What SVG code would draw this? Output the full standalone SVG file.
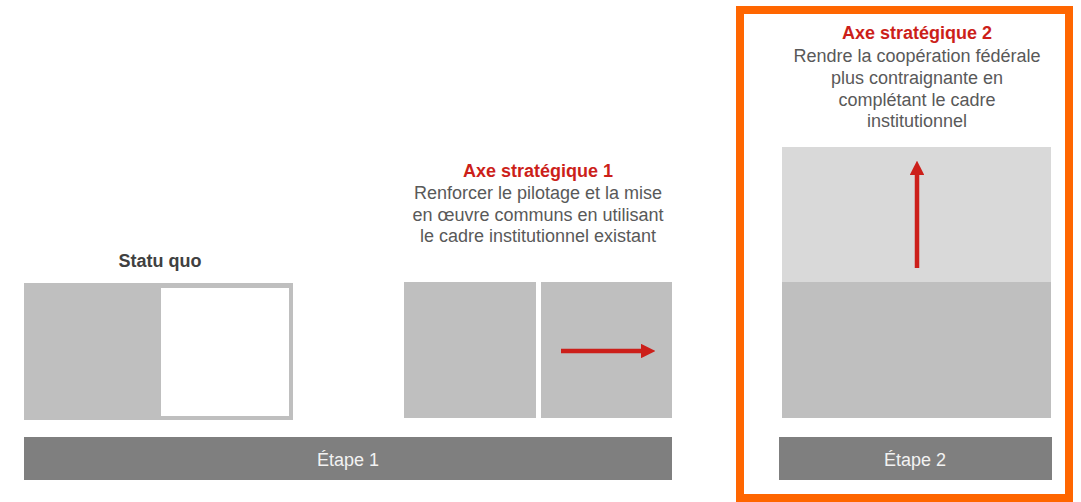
<svg xmlns="http://www.w3.org/2000/svg" width="1081" height="502" viewBox="0 0 1081 502">
  <style>
    .t { font-family: "Liberation Sans", Arial, sans-serif; font-size: 18px; text-anchor: middle; }
    .body { fill: #595959; }
    .head { fill: #cc1f1a; font-weight: bold; }
    .title { fill: #404040; font-weight: bold; }
    .bar { fill: #7f7f7f; }
    .barlabel { fill: #f2f2f2; }
    .box { fill: #bfbfbf; }
    .boxlight { fill: #d9d9d9; }
    .arrow { stroke: #cc1f1a; stroke-width: 4.5; fill: none; }
  </style>
  <defs>
    <marker id="head" viewBox="0 0 10 10" refX="0" refY="5" markerWidth="3.2" markerHeight="3.2" markerUnits="strokeWidth" orient="auto">
      <path d="M0,0 L10,5 L0,10 Z" fill="#cc1f1a"/>
    </marker>
  </defs>
  <rect width="1081" height="502" fill="#ffffff"/>

  <!-- Stage 2 highlight frame -->
  <rect id="stage2-frame" x="740" y="10" width="329" height="488" fill="none" stroke="#ff6600" stroke-width="8"/>

  <!-- Status quo -->
  <g id="statu-quo">
    <text class="t title" x="160" y="267">Statu quo</text>
    <rect class="box" x="24" y="283" width="269" height="137"/>
    <rect x="161" y="288" width="128" height="128" fill="#ffffff"/>
  </g>

  <!-- Strategic axis 1 -->
  <g id="axe-1">
    <text class="t head" x="538" y="177">Axe stratégique 1</text>
    <text class="t body" x="538" y="199">Renforcer le pilotage et la mise</text>
    <text class="t body" x="538" y="221">en œuvre communs en utilisant</text>
    <text class="t body" x="538" y="242">le cadre institutionnel existant</text>
    <rect class="box" x="404" y="282" width="132" height="136"/>
    <rect class="box" x="541" y="282" width="131" height="136"/>
  </g>

  <!-- Strategic axis 2 -->
  <g id="axe-2">
    <text class="t head" x="917" y="39">Axe stratégique 2</text>
    <text class="t body" x="917" y="62">Rendre la coopération fédérale</text>
    <text class="t body" x="917" y="84">plus contraignante en</text>
    <text class="t body" x="917" y="106">complétant le cadre</text>
    <text class="t body" x="917" y="127">institutionnel</text>
    <rect class="boxlight" x="782" y="147" width="269" height="135"/>
    <rect class="box" x="782" y="282" width="269" height="136"/>
  </g>

  <!-- Stage bars -->
  <g id="etape-1">
    <rect class="bar" x="24" y="437" width="648" height="43"/>
    <text class="t barlabel" x="348" y="466">Étape 1</text>
  </g>
  <g id="etape-2">
    <rect class="bar" x="779" y="437" width="273" height="43"/>
    <text class="t barlabel" x="915" y="466">Étape 2</text>
  </g>

  <!-- Direction arrows -->
  <g id="connectors">
    <line class="arrow" x1="561" y1="351" x2="641" y2="351" marker-end="url(#head)"/>
    <line class="arrow" x1="917" y1="268" x2="917" y2="175" marker-end="url(#head)"/>
  </g>
</svg>
